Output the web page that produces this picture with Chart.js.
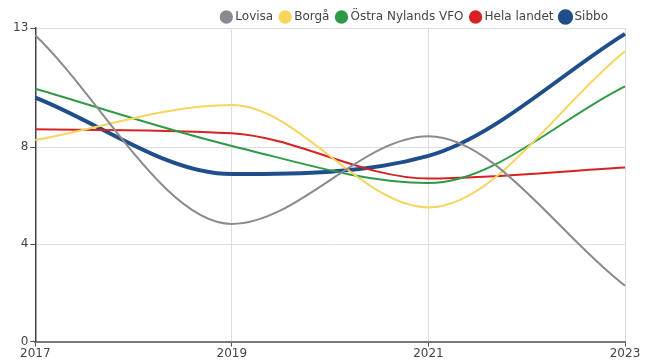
<!DOCTYPE html>
<html>
<head>
<meta charset="utf-8">
<script src="https://cdn.jsdelivr.net/npm/chart.js@4/dist/chart.umd.min.js"></script>
<style>
  html, body { margin: 0; padding: 0; background: #fff; }
  #wrap { width: 655px; height: 361px; }
</style>
</head>
<body>
<div id="wrap"><canvas id="chart"></canvas></div>
<script>
const years = ['2017', '2019', '2021', '2023'];
const lovisa = [12.6, 4.84, 8.45, 2.3];
const borga = [8.29, 9.73, 5.52, 11.94];
const ostraNyland = [10.4, 8.05, 6.52, 10.5];
const helaLandet = [8.73, 8.57, 6.71, 7.16];
const sibbo = [10.04, 6.89, 7.64, 12.66];
const yTicks = [0, 4, 8, 12.9];

Chart.defaults.font.family = 'DejaVu Sans';
Chart.defaults.font.size = 12;
Chart.defaults.color = '#444';

const series = (label, data, color, width) => ({
    label: label,
    data: data,
    borderColor: color,
    backgroundColor: color,
    borderWidth: width,
    pointRadius: 0,
    cubicInterpolationMode: 'monotone',
    fill: false
});

// legend: a bit shorter box and a bit left of the plot's right edge
const legendTweak = {
    id: 'legendTweak',
    beforeLayout: chart => {
        const lg = chart.legend;
        if (lg && !lg._tweaked) {
            const fit = lg.fit.bind(lg);
            lg.fit = function () { fit(); this.height -= 5; };
            lg._tweaked = true;
        }
    },
    afterLayout: chart => {
        chart.legend.left -= 8;
        chart.legend.right -= 8;
    }
};

new Chart(document.getElementById('chart'), {
    type: 'line',
    data: {
        labels: years,
        datasets: [
            series('Lovisa', lovisa, '#8a8a93', 2),
            series('Borgå', borga, '#f6d55c', 2),
            series('Östra Nylands VFO', ostraNyland, '#2e9a45', 2),
            series('Hela landet', helaLandet, '#d62222', 2),
            series('Sibbo', sibbo, '#1f4e8a', 4)
        ]
    },
    plugins: [legendTweak],
    options: {
        responsive: true,
        maintainAspectRatio: false,
        animation: false,
        layout: { padding: { right: 30, top: 2, left: 11 } },
        plugins: {
            tooltip: { enabled: false },
            legend: {
                align: 'end',
                labels: {
                    usePointStyle: true,
                    pointStyle: 'circle',
                    boxWidth: 6,
                    boxHeight: 8,
                    padding: 9,
                    color: '#444'
                }
            }
        },
        scales: {
            x: {
                offset: false,
                grid: { color: '#dddddd', tickLength: 5, tickColor: '#555' },
                border: { color: '#777', width: 2 },
                ticks: { maxRotation: 0, padding: 0, color: '#444' }
            },
            y: {
                min: 0,
                max: 12.9,
                afterBuildTicks: axis => { axis.ticks = yTicks.map(v => ({ value: v })); },
                grid: { color: '#dddddd', tickLength: 5, tickColor: '#555' },
                border: { color: '#444', width: 1.5 },
                ticks: { callback: v => Math.round(v), padding: 2, color: '#444' }
            }
        }
    }
});
</script>
</body>
</html>
